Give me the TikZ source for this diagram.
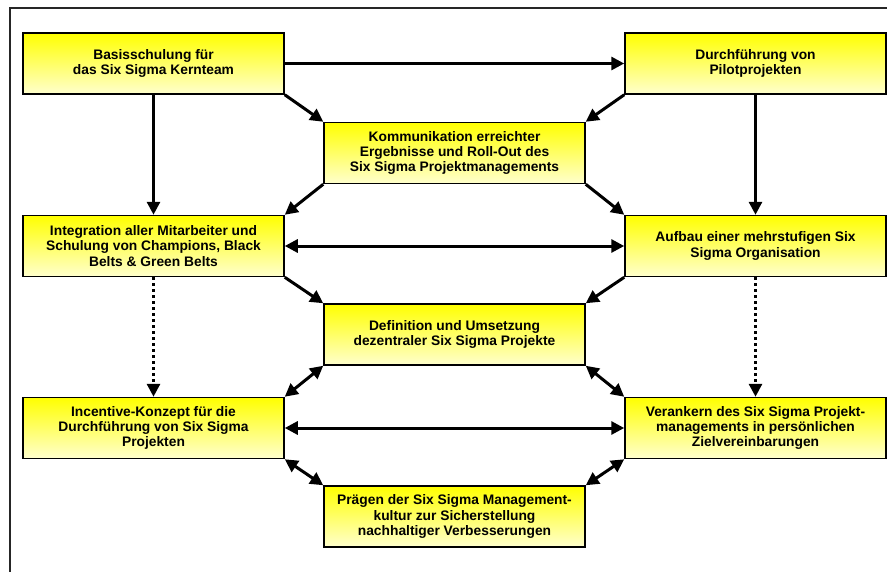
\documentclass[tikz,border=0pt]{standalone}
\usepackage{fontspec}
\setmainfont{Liberation Sans}
\usetikzlibrary{arrows.meta,shadings}
\definecolor{paleyel}{RGB}{255,255,205}
\tikzset{
  box/.style={draw=black, line width=1.5pt, top color=yellow, bottom color=paleyel,
    minimum width=261pt, minimum height=61pt, align=center, inner sep=2pt,
    font=\fontsize{13.8}{15.2}\selectfont\bfseries},
  arr/.style={line width=3pt, -{Triangle[length=13pt,width=13pt]}},
  darr/.style={line width=3pt, {Triangle[length=13pt,width=13pt]}-{Triangle[length=13pt,width=13pt]}},
  dotarr/.style={line width=3pt, dash pattern=on 3pt off 3pt, -{Triangle[length=13pt,width=13pt]}},
  frameline/.style={line width=1.6pt, draw=black!85}
}
\begin{document}
\begin{tikzpicture}[x=1pt,y=-1pt]
\useasboundingbox (0,0) rectangle (887,571);
\draw[frameline] (10,575) -- (10,8) -- (892,8);
\node[box] (A) at (153.5,63.5) {Basisschulung für\\das Six Sigma Kernteam};
\node[box] (B) at (755.5,63.5) {Durchführung von\\Pilotprojekten};
\node[box] (C) at (454.5,153) {Kommunikation erreichter\\Ergebnisse und Roll-Out des\\Six Sigma Projektmanagements};
\node[box] (D) at (153.5,246) {Integration aller Mitarbeiter und\\Schulung von Champions, Black\\Belts \& Green Belts};
\node[box] (E) at (755.5,246) {Aufbau einer mehrstufigen Six\\Sigma Organisation};
\node[box] (F) at (454.5,334.5) {Definition und Umsetzung\\dezentraler Six Sigma Projekte};
\node[box] (G) at (153.5,428) {Incentive-Konzept für die\\Durchführung von Six Sigma\\Projekten};
\node[box] (H) at (755.5,428) {Verankern des Six Sigma Projekt-\\managements in persönlichen\\Zielvereinbarungen};
\node[box] (I) at (454.5,516.5) {Prägen der Six Sigma Management-\\kultur zur Sicherstellung\\nachhaltiger Verbesserungen};
\draw[arr] (A.east) -- (B.west);
\draw[arr] (A.south east) -- (C.north west);
\draw[arr] (B.south west) -- (C.north east);
\draw[arr] (A.south) -- (D.north);
\draw[arr] (B.south) -- (E.north);
\draw[arr] (C.south west) -- (D.north east);
\draw[arr] (C.south east) -- (E.north west);
\draw[darr] (D.east) -- (E.west);
\draw[arr] (D.south east) -- (F.north west);
\draw[arr] (E.south west) -- (F.north east);
\draw[dotarr] (D.south) -- (G.north);
\draw[dotarr] (E.south) -- (H.north);
\draw[darr] (F.south west) -- (G.north east);
\draw[darr] (F.south east) -- (H.north west);
\draw[darr] (G.east) -- (H.west);
\draw[darr] (G.south east) -- (I.north west);
\draw[darr] (H.south west) -- (I.north east);
\end{tikzpicture}
\end{document}
